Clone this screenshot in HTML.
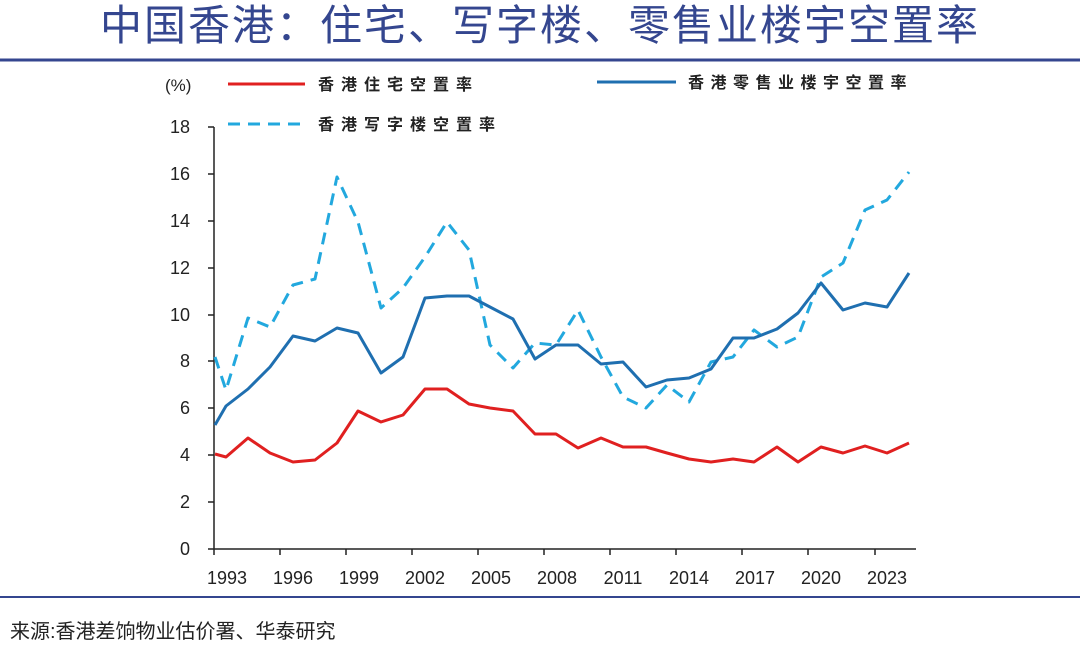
<!DOCTYPE html>
<html><head><meta charset="utf-8"><style>
body{margin:0;background:#fff;width:1080px;height:648px;overflow:hidden;font-family:"Liberation Sans","Noto Sans CJK SC",sans-serif;}
</style></head><body>
<svg width="1080" height="648" viewBox="0 0 1080 648" xmlns="http://www.w3.org/2000/svg" style="position:absolute;left:0;top:0">
<text x="540" y="40" text-anchor="middle" font-size="42" fill="#34468f" font-family="'Liberation Sans','Noto Sans CJK SC',sans-serif" letter-spacing="2">中国香港：住宅、写字楼、零售业楼宇空置率</text>
<line x1="0" y1="60" x2="1080" y2="60" stroke="#34468f" stroke-width="3"/>
<line x1="0" y1="597" x2="1080" y2="597" stroke="#34468f" stroke-width="2"/>
<text x="10" y="638" font-size="20" fill="#222" font-family="'Liberation Sans','Noto Sans CJK SC',sans-serif">来源:香港差饷物业估价署、华泰研究</text>

<g font-family="'Liberation Sans','Noto Sans CJK SC',sans-serif" fill="#222">
<text x="165" y="91" font-size="17">(%)</text>
<line x1="228" y1="84" x2="305" y2="84" stroke="#e02020" stroke-width="3"/>
<text x="318" y="90" font-size="16" letter-spacing="7" font-weight="bold">香港住宅空置率</text>
<line x1="597" y1="82" x2="676" y2="82" stroke="#1f6fb0" stroke-width="3"/>
<text x="688" y="88" font-size="16" letter-spacing="6.5" font-weight="bold">香港零售业楼宇空置率</text>
<line x1="228" y1="124" x2="305" y2="124" stroke="#22a8de" stroke-width="3" stroke-dasharray="12,8"/>
<text x="318" y="130" font-size="16" letter-spacing="7" font-weight="bold">香港写字楼空置率</text>

<g font-size="18" text-anchor="end">
<text x="190" y="555">0</text><text x="190" y="508">2</text><text x="190" y="461">4</text>
<text x="190" y="414">6</text><text x="190" y="367">8</text><text x="190" y="321">10</text>
<text x="190" y="274">12</text><text x="190" y="227">14</text><text x="190" y="180">16</text>
<text x="190" y="133">18</text>
</g>
<g font-size="18" text-anchor="middle">
<text x="227" y="584">1993</text><text x="293" y="584">1996</text><text x="359" y="584">1999</text>
<text x="425" y="584">2002</text><text x="491" y="584">2005</text><text x="557" y="584">2008</text>
<text x="623" y="584">2011</text><text x="689" y="584">2014</text><text x="755" y="584">2017</text>
<text x="821" y="584">2020</text><text x="887" y="584">2023</text>
</g>
</g>
<g stroke="#222" stroke-width="1.5">
<line x1="214" y1="127" x2="214" y2="549"/>
<line x1="208" y1="549" x2="916" y2="549"/>
<path d="M208 127H214M208 174H214M208 221H214M208 268H214M208 315H214M208 361H214M208 408H214M208 455H214M208 502H214"/>
<path d="M214 549V555M280 549V555M346 549V555M412 549V555M478 549V555M544 549V555M610 549V555M676 549V555M742 549V555M808 549V555M875 549V555"/>
</g>
<g fill="none" stroke-width="3" stroke-linejoin="round">
<polyline stroke="#22a8de" stroke-dasharray="12,8" points="215,357 226,390 248,318 270,327 293,285 315,279 337,177 358,222 381,308 403,288 425,257 447,222 469,250 490,345 513,368 535,343 556,345 578,310 601,357 623,397 646,408 667,385 689,402 711,362 733,357 754,330 777,347 798,337 821,277 843,263 865,210 887,200 909,172"/>
<polyline stroke="#1f6fb0" points="215,425 226,406 248,389 270,367 293,336 315,341 337,328 358,333 381,373 403,357 425,298 447,296 469,296 490,307 513,319 535,359 556,345 578,345 601,364 623,362 646,387 667,380 689,378 711,369 733,338 754,338 777,329 798,313 821,283 843,310 865,303 887,307 909,273"/>
<polyline stroke="#e02020" points="215,454 226,457 248,438 270,453 293,462 315,460 337,443 358,411 381,422 403,415 425,389 447,389 469,404 490,408 513,411 535,434 556,434 578,448 601,438 623,447 646,447 667,453 689,459 711,462 733,459 754,462 777,447 798,462 821,447 843,453 865,446 887,453 909,443"/>
</g>
</svg>
</body></html>
